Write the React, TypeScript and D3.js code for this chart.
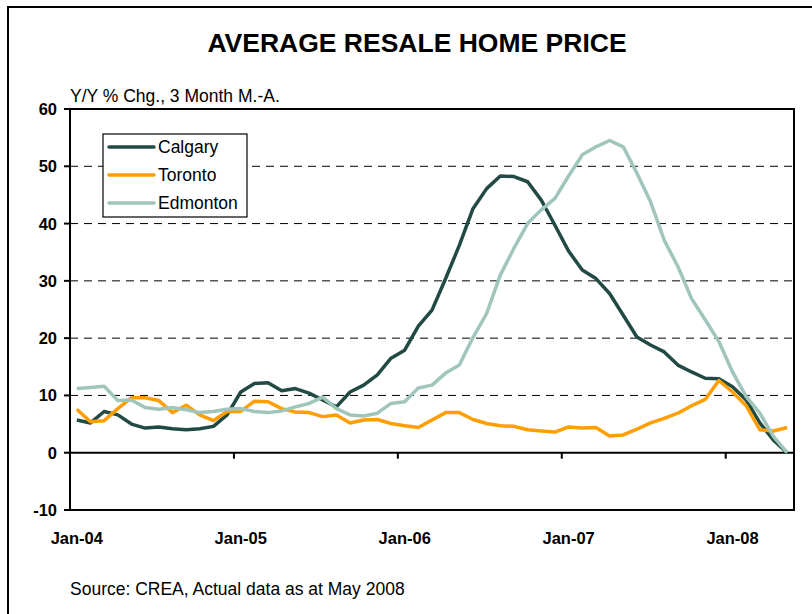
import React from 'react';
import * as d3 from 'd3';

// monthly categories, Jan-04 .. May-08
const months = d3.timeMonth.range(new Date(2004, 0, 1), new Date(2008, 5, 1));
const yearLabels = ['Jan-04', 'Jan-05', 'Jan-06', 'Jan-07', 'Jan-08'];
const yTicks = [-10, 0, 10, 20, 30, 40, 50, 60];

const calgary = [5.7, 5.2, 7.2, 6.6, 5.0, 4.3, 4.5, 4.2, 4.0, 4.2, 4.6, 6.6, 10.6, 12.1, 12.2, 10.8, 11.2, 10.4, 9.2, 8.0,
  10.6, 11.8, 13.6, 16.5, 17.9, 22.1, 24.9, 30.4, 36.2, 42.6, 46.1, 48.3, 48.2, 47.3, 44.1, 39.7, 35.2, 31.9, 30.4, 27.8,
  24.0, 20.2, 18.8, 17.6, 15.3, 14.1, 13.0, 12.9, 11.5, 9.2, 5.2, 2.2, 0.0];
const toronto = [7.6, 5.4, 5.6, 7.7, 9.6, 9.6, 9.1, 7.0, 8.3, 6.6, 5.6, 7.2, 7.2, 9.0, 8.9, 7.7, 7.1, 7.0, 6.3, 6.6,
  5.2, 5.7, 5.8, 5.1, 4.7, 4.4, 5.7, 7.0, 7.0, 5.8, 5.1, 4.7, 4.6, 4.0, 3.8, 3.6, 4.5, 4.3, 4.4, 2.9,
  3.1, 4.1, 5.2, 6.0, 6.9, 8.2, 9.3, 12.6, 10.6, 8.2, 4.0, 3.8, 4.4];
const edmonton = [11.2, 11.4, 11.6, 9.1, 9.2, 7.9, 7.6, 7.9, 7.5, 7.0, 7.2, 7.6, 7.7, 7.2, 7.0, 7.3, 8.0, 8.6, 9.7, 7.7,
  6.6, 6.4, 6.9, 8.6, 8.9, 11.3, 11.8, 13.9, 15.3, 20.1, 24.3, 31.0, 35.7, 40.0, 42.4, 44.4, 48.3, 52.0, 53.4, 54.5,
  53.4, 48.8, 43.8, 37.1, 32.5, 26.9, 23.2, 19.4, 14.1, 9.8, 6.9, 2.8, 0.0];

const series = [
  { name: 'Calgary', values: calgary, color: '#224a44' },
  { name: 'Toronto', values: toronto, color: '#ff9e00' },
  { name: 'Edmonton', values: edmonton, color: '#a0c5bc' },
];

const left = 70, right = 794, top = 109, bottom = 510;
const font = 'Arial, "Liberation Sans", sans-serif';

export default function App() {
  const x = d3.scaleLinear().domain([0, months.length]).range([left, right]);
  const y = d3.scaleLinear().domain([-10, 60]).range([bottom, top]);

  const line = d3.line<number>()
    .x((d, i) => x(i + 0.5))
    .y(d => y(d));

  const yearIdx = months.map((m, i) => i).filter(i => months[i].getMonth() === 0);

  return (
    <svg width={812} height={614} style={{ position: 'absolute', left: 0, top: 0, background: '#fff' }}
      fontFamily={font}>
      {/* outer frame */}
      <rect x={8} y={7} width={900} height={700} fill="none" stroke="#000" strokeWidth={2} />

      <text x={417} y={52} textAnchor="middle" fontSize={26.5} fontWeight="bold">AVERAGE RESALE HOME PRICE</text>
      <text x={70} y={102} fontSize={17.5}>Y/Y % Chg., 3 Month M.-A.</text>

      {/* gridlines */}
      {yTicks.filter(t => t > 0 && t < 60).map(t => (
        <line key={'g' + t} x1={left} x2={right} y1={y(t)} y2={y(t)} stroke="#000" strokeWidth={1} strokeDasharray="8,6" />
      ))}

      {/* plot frame */}
      <rect x={left} y={top} width={right - left} height={bottom - top} fill="none" stroke="#000" strokeWidth={2} />
      <line x1={left} x2={right} y1={y(0)} y2={y(0)} stroke="#000" strokeWidth={2} />

      {/* y axis ticks & labels */}
      {yTicks.map(t => (
        <g key={'y' + t}>
          <line x1={left - 6} x2={left} y1={y(t)} y2={y(t)} stroke="#000" strokeWidth={2} />
          <text x={57} y={y(t) + 6} textAnchor="end" fontSize={16.5} fontWeight="bold">{t}</text>
        </g>
      ))}

      {/* x ticks at year boundaries, labels on January */}
      {yearIdx.map((i, k) => (
        <g key={'x' + i}>
          <line x1={x(i)} x2={x(i)} y1={y(0)} y2={y(0) + 6} stroke="#000" strokeWidth={2} />
          <text x={x(i + 0.5)} y={544} textAnchor="middle" fontSize={16.5} fontWeight="bold">{yearLabels[k]}</text>
        </g>
      ))}

      {/* series */}
      {series.map(s => (
        <path key={s.name} d={line(s.values) || ''} fill="none" stroke={s.color} strokeWidth={3.5}
          strokeLinejoin="round" />
      ))}

      {/* legend */}
      <rect x={103} y={134} width={144} height={83} fill="#fff" stroke="#000" strokeWidth={1.2} />
      {series.map((s, i) => (
        <g key={'l' + s.name} transform={`translate(0, ${147 + i * 28})`}>
          <line x1={109} x2={154} y1={0} y2={0} stroke={s.color} strokeWidth={3.5} strokeLinecap="round" />
          <text x={158} y={6} fontSize={17.5}>{s.name}</text>
        </g>
      ))}

      <text x={70} y={595} fontSize={17.5}>Source: CREA, Actual data as at May 2008</text>
    </svg>
  );
}
